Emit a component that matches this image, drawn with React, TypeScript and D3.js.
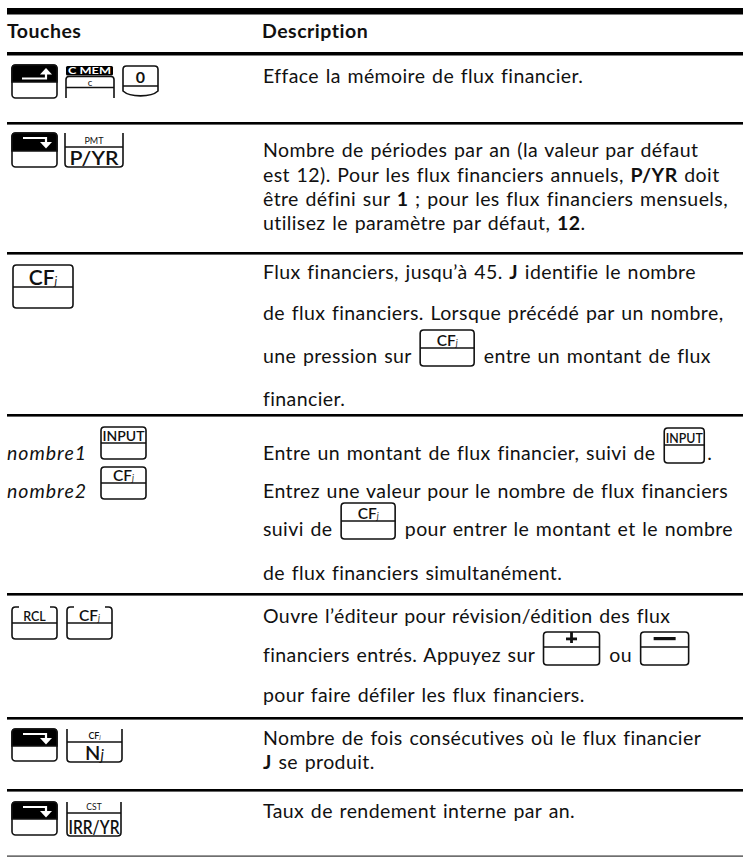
import React, { useEffect, useRef } from 'react'
import * as d3 from 'd3'

const WIDTH = 743
const HEIGHT = 857
const FONT = 'Lato, "Noto Sans", sans-serif'
const FS = 19.5
const LS = 0.4 // espacement des lettres
const WS = 1.3 // espacement des mots

// ---- contenu ----
const headers = ['Touches', 'Description']

// segments : texte simple, {b} gras, {k} touche en ligne
type Seg = string | { b: string } | { k: string }

const desc1: Seg[][] = [['Efface la mémoire de flux financier.']]
const desc2: Seg[][] = [
  ['Nombre de périodes par an (la valeur par défaut'],
  ['est 12). Pour les flux financiers annuels, ', { b: 'P/YR' }, ' doit'],
  ['être défini sur ', { b: '1' }, ' ; pour les flux financiers mensuels,'],
  ['utilisez le paramètre par défaut, ', { b: '12' }, '.'],
]
const desc3: Seg[][] = [
  ['Flux financiers, jusqu’à 45. ', { b: 'J' }, ' identifie le nombre'],
  ['de flux financiers. Lorsque précédé par un nombre,'],
  ['une pression sur ', { k: 'CF' }, ' entre un montant de flux'],
  ['financier.'],
]
const desc4: Seg[][] = [
  ['Entre un montant de flux financier, suivi de ', { k: 'INPUT' }, '.'],
  ['Entrez une valeur pour le nombre de flux financiers'],
  ['suivi de ', { k: 'CF' }, ' pour entrer le montant et le nombre'],
  ['de flux financiers simultanément.'],
]
const desc5: Seg[][] = [
  ['Ouvre l’éditeur pour révision/édition des flux'],
  ['financiers entrés. Appuyez sur ', { k: 'PLUS' }, ' ou ', { k: 'MINUS' }],
  ['pour faire défiler les flux financiers.'],
]
const desc6: Seg[][] = [
  ['Nombre de fois consécutives où le flux financier'],
  [{ b: 'J' }, ' se produit.'],
]
const desc7: Seg[][] = [['Taux de rendement interne par an.']]
const descriptions = [desc1, desc2, desc3, desc4, desc5, desc6, desc7]

const argLabels = ['nombre1', 'nombre2']

// ---- mise en page ----
const rowBottoms = [123, 253, 415, 594, 718, 790]
const baselines = [
  [83],
  [157, 181.5, 206, 230],
  [279, 320, 363, 406],
  [460, 498, 536, 580],
  [623, 662, 702],
  [745, 769],
  [818],
]

const col = d3.scaleOrdinal<string, number>().domain(headers).range([7, 262])

const inlineKeys: Record<string, { w: number; h: number; split: number }> = {
  CF: { w: 54, h: 36, split: 18 },
  INPUT: { w: 40, h: 35, split: 17 },
  PLUS: { w: 56, h: 33, split: 15 },
  MINUS: { w: 48, h: 33, split: 15 },
}

type G = d3.Selection<SVGGElement, unknown, null, undefined>

function keyLabel(g: G, cx: number, base: number, kind: string, fs: number, len = 0) {
  if (kind === 'CF' || kind === 'N') {
    const t = g.append('text').attr('x', cx).attr('y', base).attr('text-anchor', 'middle')
      .attr('font-size', fs).attr('font-weight', 600)
    t.append('tspan').text(kind)
    t.append('tspan').attr('font-style', 'italic').attr('font-weight', 'normal')
      .attr('font-size', fs * (kind === 'CF' ? 0.55 : 0.75)).text('j')
  } else if (kind === 'PLUS') {
    g.append('rect').attr('x', cx - 5.5).attr('y', base - 7).attr('width', 11).attr('height', 2.8)
    g.append('rect').attr('x', cx - 1.4).attr('y', base - 12.5).attr('width', 2.8).attr('height', 11)
  } else if (kind === 'MINUS') {
    g.append('rect').attr('x', cx - 11).attr('y', base - 7.5).attr('width', 22).attr('height', 3.2)
  } else {
    const t = g.append('text').attr('x', cx).attr('y', base).attr('text-anchor', 'middle')
      .attr('font-size', fs).attr('font-weight', fs > 11 ? 600 : 'normal').text(kind)
    if (len) t.attr('textLength', len).attr('lengthAdjust', 'spacingAndGlyphs')
  }
}

// touche avec étiquette dans la partie haute
function labelKey(g: G, x: number, y: number, w: number, h: number, split: number,
  kind: string, fs: number, openTop = false) {
  const r = 3.5
  const d = openTop
    ? `M${x + 7},${y} L${x + r},${y} Q${x},${y} ${x},${y + r} L${x},${y + h - r} Q${x},${y + h} ${x + r},${y + h} ` +
      `L${x + w - r},${y + h} Q${x + w},${y + h} ${x + w},${y + h - r} L${x + w},${y + r} Q${x + w},${y} ${x + w - r},${y} L${x + w - 7},${y}`
    : `M${x + r},${y} L${x + w - r},${y} Q${x + w},${y} ${x + w},${y + r} L${x + w},${y + h - r} Q${x + w},${y + h} ${x + w - r},${y + h} ` +
      `L${x + r},${y + h} Q${x},${y + h} ${x},${y + h - r} L${x},${y + r} Q${x},${y} ${x + r},${y} Z`
  g.append('path').attr('d', d).attr('fill', 'none').attr('stroke', '#111').attr('stroke-width', 1.6)
  g.append('line').attr('x1', x).attr('x2', x + w).attr('y1', y + split).attr('y2', y + split)
    .attr('stroke', '#111').attr('stroke-width', 1.5)
  const len = kind === 'INPUT' ? w - 3 : kind === 'RCL' ? w * 0.5 : 0
  const lfs = kind === 'INPUT' ? 12.5 : fs
  keyLabel(g, x + w / 2, y + split - 2.5, kind, lfs, len)
}

// touche à fonction secondaire (haut ouvert)
function shiftedKey(g: G, x: number, y: number, w: number, h: number, split: number,
  top: string, main: string, topFs: number, mainFs: number, mainLen = 0) {
  const r = 3.5
  g.append('path')
    .attr('d', `M${x},${y} L${x},${y + h - r} Q${x},${y + h} ${x + r},${y + h} L${x + w - r},${y + h} Q${x + w},${y + h} ${x + w},${y + h - r} L${x + w},${y}`)
    .attr('fill', 'none').attr('stroke', '#111').attr('stroke-width', 1.6)
  g.append('line').attr('x1', x).attr('x2', x + w).attr('y1', y + split).attr('y2', y + split)
    .attr('stroke', '#111').attr('stroke-width', 1.5)
  keyLabel(g, x + w / 2, y + split - 3, top, topFs)
  keyLabel(g, x + w / 2, y + h - 2.5, main, mainFs, mainLen)
}

function shiftKey(g: G, x: number, y: number, w: number, h: number, dir: 'up' | 'down') {
  const r = 3.5
  const bh = Math.round(h * 0.52)
  g.append('rect').attr('x', x).attr('y', y).attr('width', w).attr('height', h).attr('rx', r)
    .attr('fill', '#fff').attr('stroke', '#111').attr('stroke-width', 1.6)
  g.append('path')
    .attr('d', `M${x},${y + bh} L${x},${y + r} Q${x},${y} ${x + r},${y} L${x + w - r},${y} Q${x + w},${y} ${x + w},${y + r} L${x + w},${y + bh} Z`)
    .attr('fill', '#000').attr('stroke', '#111').attr('stroke-width', 1.6)
  const ax = x + 34
  if (dir === 'up') {
    const hy = y + bh - 3.5
    g.append('path').attr('d', `M${x + 10},${hy} L${ax},${hy} L${ax},${y + 8}`)
      .attr('fill', 'none').attr('stroke', '#fff').attr('stroke-width', 2.2)
    g.append('path').attr('d', `M${ax - 6},${y + 9.5} L${ax + 6},${y + 9.5} L${ax},${y + 3} Z`).attr('fill', '#fff')
  } else {
    const hy = y + 5
    g.append('path').attr('d', `M${x + 11},${hy} L${ax},${hy} L${ax},${y + 10}`)
      .attr('fill', 'none').attr('stroke', '#fff').attr('stroke-width', 2.2)
    g.append('path').attr('d', `M${ax - 6},${y + 9} L${ax + 6},${y + 9} L${ax},${y + 15.5} Z`).attr('fill', '#fff')
  }
}

function cmemKey(g: G, x: number, y: number) {
  g.append('rect').attr('x', x + 1).attr('y', y).attr('width', 47).attr('height', 9.5).attr('rx', 1.5).attr('fill', '#000')
  g.append('text').attr('x', x + 24.5).attr('y', y + 8.4).attr('text-anchor', 'middle').attr('fill', '#fff')
    .attr('font-size', 10).attr('font-weight', 'bold').attr('textLength', 43).attr('lengthAdjust', 'spacingAndGlyphs')
    .text('C MEM')
  const t = y + 10.5
  const w = 49
  g.append('path').attr('d', `M${x + 1},${y + 32} L${x + 1},${t + 3} Q${x + 1},${t} ${x + 4},${t} L${x + w - 3},${t} Q${x + w},${t} ${x + w},${t + 3} L${x + w},${y + 32}`)
    .attr('fill', 'none').attr('stroke', '#111').attr('stroke-width', 1.6)
  g.append('line').attr('x1', x + 1).attr('x2', x + w).attr('y1', y + 21.5).attr('y2', y + 21.5)
    .attr('stroke', '#111').attr('stroke-width', 1.5)
  g.append('text').attr('x', x + 25).attr('y', y + 20.3).attr('text-anchor', 'middle').attr('font-size', 9.5).text('c')
}

function zeroKey(g: G, x: number, y: number, w: number) {
  g.append('path').attr('d', `M${x},${y + 20} L${x},${y + 3.5} Q${x},${y} ${x + 3.5},${y} L${x + w - 3.5},${y} Q${x + w},${y} ${x + w},${y + 3.5} L${x + w},${y + 20}`)
    .attr('fill', 'none').attr('stroke', '#111').attr('stroke-width', 1.6)
  g.append('line').attr('x1', x).attr('x2', x + w).attr('y1', y + 20).attr('y2', y + 20)
    .attr('stroke', '#111').attr('stroke-width', 1.5)
  g.append('path').attr('d', `M${x},${y + 20} L${x},${y + 25} C${x + w * 0.2},${y + 31.5} ${x + w * 0.8},${y + 31.5} ${x + w},${y + 25} L${x + w},${y + 20}`)
    .attr('fill', 'none').attr('stroke', '#111').attr('stroke-width', 1.6)
  g.append('text').attr('x', x + w / 2).attr('y', y + 17).attr('text-anchor', 'middle')
    .attr('font-size', 16).attr('font-weight', 'bold').text('0')
}

function drawLine(g: G, x0: number, base: number, segs: Seg[]) {
  let x = x0
  segs.forEach(s => {
    if (typeof s === 'string' || 'b' in s) {
      const t = g.append('text').attr('x', x).attr('y', base).style('white-space', 'pre')
        .attr('font-size', FS).attr('letter-spacing', LS).attr('word-spacing', WS)
        .attr('font-weight', typeof s === 'string' ? 'normal' : 'bold')
        .text(typeof s === 'string' ? s : s.b)
      x += (t.node() as SVGTextElement).getComputedTextLength()
    } else {
      const k = inlineKeys[s.k]
      x += 2
      labelKey(g, x, base + 3 - k.h, k.w, k.h, k.split, s.k, 15.5)
      x += k.w + 3
    }
  })
}

const App = () => {
  const ref = useRef<SVGSVGElement>(null)

  useEffect(() => {
    const svg = d3.select(ref.current)
    svg.selectAll('*').remove()
    const g = svg.append('g').attr('font-family', FONT).attr('fill', '#111') as unknown as G

    // filets
    g.append('rect').attr('x', 7).attr('y', 8).attr('width', WIDTH - 7).attr('height', 6.5).attr('fill', '#000')
    g.append('rect').attr('x', 7).attr('y', 52).attr('width', WIDTH - 7).attr('height', 3.5).attr('fill', '#000')
    rowBottoms.forEach(y => {
      g.append('rect').attr('x', 7).attr('y', y - 1).attr('width', WIDTH - 7).attr('height', 2.6).attr('fill', '#000')
    })
    g.append('rect').attr('x', 7).attr('y', 855.5).attr('width', WIDTH - 7).attr('height', 1.2).attr('fill', '#333')

    // en-têtes
    headers.forEach(h => {
      g.append('text').attr('x', col(h)).attr('y', 38).attr('font-size', FS).attr('font-weight', 'bold')
        .attr('letter-spacing', 0.5).text(h)
    })

    // descriptions
    descriptions.forEach((rows, i) => {
      rows.forEach((segs, j) => drawLine(g, col('Description') + 1, baselines[i][j], segs))
    })

    // colonne des touches
    shiftKey(g, 12, 65, 45, 33, 'up')
    cmemKey(g, 65, 66)
    zeroKey(g, 123, 66, 35)

    shiftKey(g, 12, 133, 45, 34, 'down')
    shiftedKey(g, 65, 133, 58, 34, 14, 'PMT', 'P/YR', 9, 19, 49)

    labelKey(g, 13, 265, 60, 43, 22, 'CF', 21)

    argLabels.forEach((a, i) => {
      g.append('text').attr('x', 7).attr('y', baselines[3][i]).attr('font-size', FS)
        .attr('letter-spacing', 1).attr('font-style', 'italic').text(a)
    })
    labelKey(g, 101, 427, 45, 32, 16, 'INPUT', 14)
    labelKey(g, 101, 467, 45, 32, 16, 'CF', 15.5)

    labelKey(g, 12, 607, 45, 32, 16, 'RCL', 14, true)
    labelKey(g, 67, 607, 45, 32, 16, 'CF', 15.5, true)

    shiftKey(g, 12, 729, 45, 32, 'down')
    shiftedKey(g, 67, 729, 55, 33, 13, 'CF', 'N', 9, 20)

    shiftKey(g, 12, 802, 45, 33, 'down')
    shiftedKey(g, 67, 802, 54, 34, 11, 'CST', 'IRR/YR', 8.5, 19, 51)
  }, [])

  return (
    <svg ref={ref} width={WIDTH} height={HEIGHT}
      style={{ position: 'absolute', left: 0, top: 0, background: '#fff' }} />
  )
}

export default App
